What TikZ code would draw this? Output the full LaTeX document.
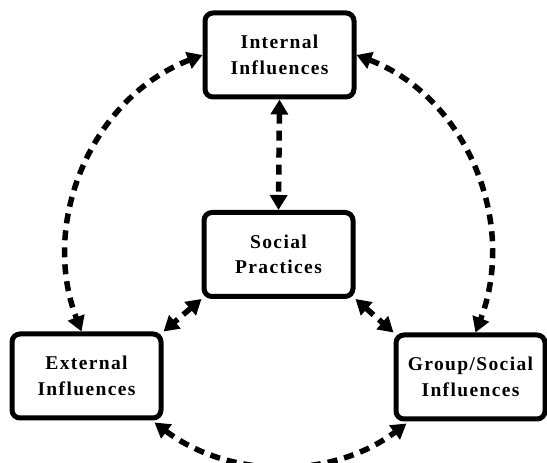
\documentclass[tikz,border=0pt]{standalone}
\usepackage{fontspec}
\setmainfont{Liberation Serif}[LetterSpace=7]
\usetikzlibrary{arrows.meta}
\tikzset{
  box/.style={draw=black, line width=5pt, rounded corners=8pt, fill=white,
    minimum width=149pt, minimum height=84pt, outer sep=2.5pt, inner sep=2pt,
    align=center, font=\fontsize{19.5}{25.5}\selectfont\bfseries},
  link/.style={line width=5.5pt, dash pattern=on 10pt off 7pt,
    {Triangle[length=15pt,width=17pt]}-{Triangle[length=15pt,width=17pt]}}
}
\begin{document}
\begin{tikzpicture}[x=1pt,y=1pt]
\useasboundingbox (0,0) rectangle (547,463);
\node[box] (Internal) at (279.5,408) {Internal\\Influences};
\node[box] (Social) at (278.5,208.5) {Social\\Practices};
\node[box] (External) at (86.5,87) {External\\Influences};
\node[box] (Group) at (470.5,86) {Group/Social\\Influences};
\coordinate (extTop) at ([xshift=-5pt]External.north);
\coordinate (grpTop) at ([xshift=5pt]Group.north);
\coordinate (extBot) at ([xshift=-9pt,yshift=-2pt]External.south east);
\coordinate (grpBot) at ([xshift=13pt,yshift=-2pt]Group.south west);
\draw[link] (Internal.west) to[out=201,in=111] (extTop);
\draw[link] (Internal.east) to[out=-21,in=69] (grpTop);
\draw[link] (extBot) to[out=-37,in=217,looseness=0.95] (grpBot);
\draw[link] (Internal.south) -- (Social.north);
\draw[link] (Social.south west) -- (External.north east);
\draw[link] (Social.south east) -- (Group.north west);
\end{tikzpicture}
\end{document}
